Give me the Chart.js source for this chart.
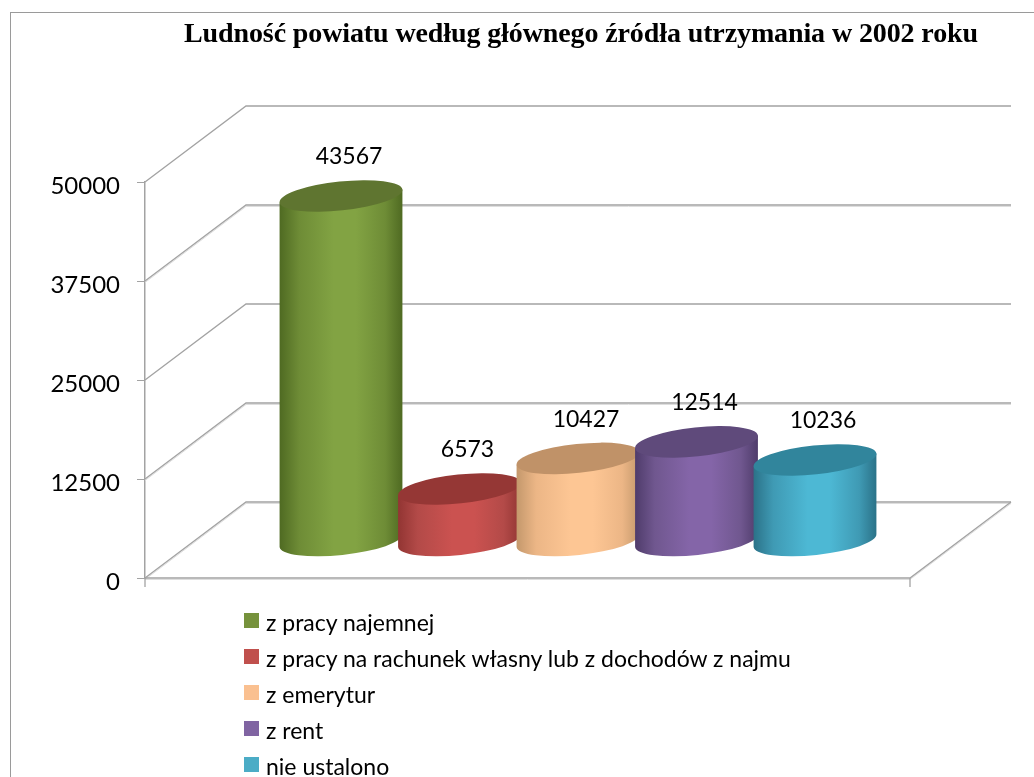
<!DOCTYPE html>
<html lang="pl">
<head>
<meta charset="utf-8">
<title>Ludność powiatu</title>
<script src="https://cdn.jsdelivr.net/npm/chart.js@4"></script>
<style>
  html, body { margin: 0; padding: 0; background: #fff; overflow: hidden; width: 1034px; height: 777px; }
  #frame { position: absolute; left: 10px; top: 12px; width: 1100px; height: 900px; border: 1px solid #9a9a9a; }
  #chart { position: absolute; left: 0; top: 0; }
  #title { position: absolute; left: 184px; top: 17px; white-space: nowrap; letter-spacing: -0.11px; font: bold 28px "Liberation Serif", serif; color: #000; }
  #legend { position: absolute; left: 244px; top: 613px; font: 23px Lato, sans-serif; color: #000; }
  #legend div { position: relative; height: 36px; white-space: nowrap; }
  #legend i { position: absolute; left: 0; top: 0; width: 15px; height: 15px; }
  #legend span { position: absolute; left: 22px; top: -4px; line-height: 26px; }
</style>
</head>
<body>
<div id="frame"></div>
<canvas id="chart" width="1034" height="777"></canvas>
<div id="title"></div>
<div id="legend"></div>
<script>
const TITLE = 'Ludność powiatu według głównego źródła utrzymania w 2002 roku';
const SERIES_NAMES = ['z pracy najemnej', 'z pracy na rachunek własny lub z dochodów z najmu', 'z emerytur', 'z rent', 'nie ustalono'];
const SERIES_VALUES = [43567, 6573, 10427, 12514, 10236];
const Y_TICKS = [0, 12500, 25000, 37500, 50000];

// legend colour, cylinder edge, cylinder shoulder, cylinder highlight, top cap
const PALETTE = [
  ['#76923c', '#4f6a22', '#6e8c36', '#82a343', '#5f7530'],
  ['#c0504d', '#923533', '#b34a48', '#cb5250', '#953735'],
  ['#fac090', '#c4986c', '#ecb686', '#fdc694', '#c09268'],
  ['#8064a2', '#4f3c6b', '#70578f', '#8465a8', '#5f4a7b'],
  ['#4bacc6', '#2b7288', '#3f9ab4', '#4db8d4', '#31859c']
];

const WALL_DX = 101, WALL_DY = 76; // depth of the fake 3d box
const BAR_DX = 50.5, BAR_DY = 37;  // cylinders stand in the middle of the floor
const CAP_RY = 14.5, CAP_ROT = -6 * Math.PI / 180;
const LINE = '#a3a3a3';

function wallLine(ctx, pts, shadow) {
  if (shadow) {
    ctx.strokeStyle = '#dedede';
    ctx.lineWidth = 1;
    ctx.beginPath();
    pts.forEach((p, i) => i ? ctx.lineTo(p[0], p[1] + 1.5) : ctx.moveTo(p[0], p[1] + 1.5));
    ctx.stroke();
  }
  ctx.strokeStyle = LINE;
  ctx.lineWidth = 1.3;
  ctx.beginPath();
  pts.forEach((p, i) => i ? ctx.lineTo(p[0], p[1]) : ctx.moveTo(p[0], p[1]));
  ctx.stroke();
}

function drawCylinder(ctx, el, color, label) {
  const cx = el.x + BAR_DX, rx = el.width / 2 + 2.5;
  const topY = el.y - BAR_DY, baseY = el.base - BAR_DY;
  const ex = rx * Math.cos(CAP_ROT), ey = rx * Math.sin(CAP_ROT);

  const grad = ctx.createLinearGradient(cx - ex, 0, cx + ex, 0);
  grad.addColorStop(0, color[1]);
  grad.addColorStop(0.16, color[2]);
  grad.addColorStop(0.44, color[3]);
  grad.addColorStop(0.62, color[3]);
  grad.addColorStop(0.86, color[2]);
  grad.addColorStop(1, color[1]);

  ctx.beginPath();
  ctx.moveTo(cx - ex, topY - ey);
  ctx.lineTo(cx - ex, baseY - ey);
  ctx.ellipse(cx, baseY, rx, CAP_RY, CAP_ROT, Math.PI, 0, true);
  ctx.lineTo(cx + ex, topY + ey);
  ctx.closePath();
  ctx.fillStyle = grad;
  ctx.fill();

  ctx.beginPath();
  ctx.ellipse(cx, topY, rx, CAP_RY, CAP_ROT, 0, Math.PI * 2);
  ctx.fillStyle = color[4];
  ctx.fill();

  ctx.fillStyle = '#000';
  ctx.font = '23px Lato, sans-serif';
  ctx.textAlign = 'center';
  ctx.textBaseline = 'middle';
  ctx.fillText(label, cx + 8, topY - 39);
}

const box3d = {
  id: 'box3d',
  beforeDatasetsDraw(chart) {
    const { ctx, chartArea: a, scales: { y } } = chart;
    ctx.save();
    Y_TICKS.forEach(t => {
      const py = y.getPixelForValue(t);
      wallLine(ctx, [[a.left, py], [a.left + WALL_DX, py - WALL_DY], [a.right + WALL_DX, py - WALL_DY]], t % 25000 === 12500 || t === 0);
    });
    // floor front edge and the two little ticks under it
    wallLine(ctx, [[a.right + WALL_DX, a.bottom - WALL_DY], [a.right, a.bottom], [a.left, a.bottom]], true);
    wallLine(ctx, [[a.left, a.bottom], [a.left, a.bottom + 9]]);
    wallLine(ctx, [[a.right, a.bottom], [a.right, a.bottom + 9]]);
    ctx.restore();
  },
  // the library's flat rectangles are replaced by the cylinders
  beforeDatasetDraw() { return false; },
  afterDatasetsDraw(chart) {
    const { ctx } = chart;
    ctx.save();
    chart.data.datasets.forEach((ds, i) => {
      drawCylinder(ctx, chart.getDatasetMeta(i).data[0], PALETTE[i], String(ds.data[0]));
    });
    ctx.restore();
  }
};

new Chart(document.getElementById('chart'), {
  type: 'bar',
  data: {
    labels: [''],
    datasets: SERIES_NAMES.map((name, i) => ({
      label: name,
      data: [SERIES_VALUES[i]],
      backgroundColor: PALETTE[i][0]
    }))
  },
  options: {
    responsive: false,
    animation: false,
    layout: { padding: { top: 182, right: 124, bottom: 199, left: 0 } },
    plugins: { legend: { display: false }, title: { display: false }, tooltip: { enabled: false } },
    datasets: { bar: { barPercentage: 1, categoryPercentage: 0.7745 } },
    scales: {
      x: { display: false },
      y: {
        min: Y_TICKS[0],
        max: Y_TICKS[Y_TICKS.length - 1],
        afterFit(scale) { scale.width = 145; },
        afterBuildTicks(scale) { scale.ticks = Y_TICKS.map(v => ({ value: v })); },
        border: { color: LINE, width: 1.5 },
        grid: { drawOnChartArea: false, color: LINE, tickLength: 8 },
        ticks: {
          color: '#000',
          padding: 17,
          labelOffset: 4,
          font: { family: 'Lato, sans-serif', size: 24 },
          callback: v => String(v)
        }
      }
    }
  },
  plugins: [box3d]
});

document.getElementById('title').textContent = TITLE;
document.getElementById('legend').innerHTML = SERIES_NAMES.map((name, i) =>
  `<div><i style="background:${PALETTE[i][0]}"></i><span>${name}</span></div>`).join('');
</script>
</body>
</html>
